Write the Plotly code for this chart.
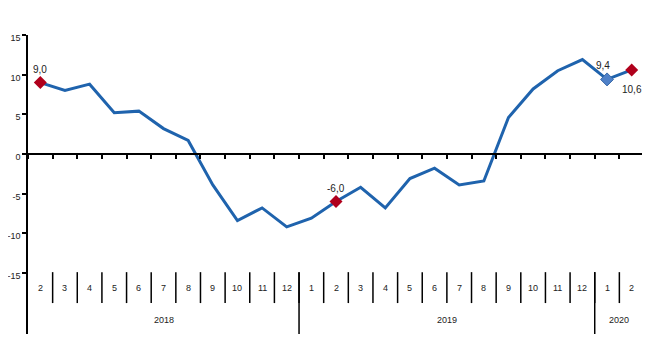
import plotly.graph_objects as go

months = ["2", "3", "4", "5", "6", "7", "8", "9", "10", "11", "12",
          "1", "2", "3", "4", "5", "6", "7", "8", "9", "10", "11", "12",
          "1", "2"]
years = ["2018", "2019", "2020"]
year_counts = [11, 12, 2]
values = [9.0, 8.0, 8.8, 5.2, 5.4, 3.2, 1.7, -3.9, -8.4, -6.8, -9.2,
          -8.1, -6.0, -4.2, -6.8, -3.1, -1.8, -3.9, -3.4, 4.6, 8.2, 10.5, 11.9,
          9.4, 10.6]
red_idx = [0, 12, 24]
blue_idx = [23]
y_ticks = [-15, -10, -5, 0, 5, 10, 15]

y_min, y_max = -22.7, 15
n = len(values)
xs = list(range(n))

line_color = "#1f63ad"
red = "#b0001c"
blue = "#4f81c8"
font_family = "Liberation Sans, Arial, sans-serif"

fig = go.Figure()
fig.add_trace(go.Scatter(x=xs, y=values, mode="lines",
                         line=dict(color=line_color, width=3),
                         hoverinfo="skip", showlegend=False))
fig.add_trace(go.Scatter(x=[xs[i] for i in red_idx], y=[values[i] for i in red_idx],
                         mode="markers",
                         marker=dict(symbol="diamond", size=10, color=red,
                                     line=dict(color=red, width=0)),
                         showlegend=False))
fig.add_trace(go.Scatter(x=[xs[i] for i in blue_idx], y=[values[i] for i in blue_idx],
                         mode="markers",
                         marker=dict(symbol="diamond", size=10, color=blue,
                                     line=dict(color="#3a6aa8", width=1)),
                         showlegend=False))

def fmt(v):
    return f"{v:.1f}".replace(".", ",")

annotations = []
label_pos = {0: (0, 6, "bottom"), 12: (0, 6, "bottom"), 23: (-4, 6, "bottom"), 24: (0, -12, "top")}
for i, (dx, dy, anchor) in label_pos.items():
    annotations.append(dict(x=xs[i], y=values[i], xref="x", yref="y",
                            text=fmt(values[i]), showarrow=False,
                            xshift=dx, yshift=dy, yanchor=anchor,
                            font=dict(size=10, color="#222222", family=font_family)))

# month labels
for i, m in enumerate(months):
    annotations.append(dict(x=xs[i], y=-16.9, xref="x", yref="y", text=m,
                            showarrow=False,
                            font=dict(size=9, color="#222222", family=font_family)))

shapes = []
# month separators
for i in range(n):
    b = i + 0.5
    shapes.append(dict(type="line", xref="x", yref="y", x0=b, x1=b,
                       y0=-14.9, y1=-18.8, line=dict(color="black", width=1.5)))
# year separators and labels
start = 0
for yr, c in zip(years, year_counts):
    end = start + c
    mid = (start + end - 1) / 2
    annotations.append(dict(x=mid, y=-20.9, xref="x", yref="y", text=yr,
                            showarrow=False,
                            font=dict(size=9, color="#222222", family=font_family)))
    b = end - 0.5
    shapes.append(dict(type="line", xref="x", yref="y", x0=b, x1=b,
                       y0=-14.9, y1=y_min, line=dict(color="black", width=1.5)))
    start = end

zero_pos = (0 - y_min) / (y_max - y_min)

# page body has an 8px default margin, so the figure is sized to fit the window
fig.update_layout(
    width=642, height=352,
    margin=dict(l=20, r=6, t=27, b=26, autoexpand=False),
    paper_bgcolor="white", plot_bgcolor="white",
    font=dict(family=font_family, size=9, color="#222222"),
    xaxis=dict(range=[-0.5, n - 0.5], anchor="free", position=zero_pos,
               showline=True, linecolor="black", linewidth=1.5,
               ticks="outside", ticklen=4, tickwidth=1.5, tickcolor="black",
               tickvals=[i + 0.5 for i in range(-1, n)],
               showticklabels=False, showgrid=False, zeroline=False,
               automargin=False),
    yaxis=dict(range=[y_min, y_max], tickvals=y_ticks,
               ticktext=[str(t) for t in y_ticks],
               showline=True, linecolor="black", linewidth=1.5,
               ticks="outside", ticklen=4, tickwidth=1.5, tickcolor="black",
               showgrid=False, zeroline=False, ticklabelshift=3,
               automargin=False,
               tickfont=dict(size=9, color="#222222")),
    annotations=annotations, shapes=shapes,
    showlegend=False,
)

fig.write_html("out.html")
